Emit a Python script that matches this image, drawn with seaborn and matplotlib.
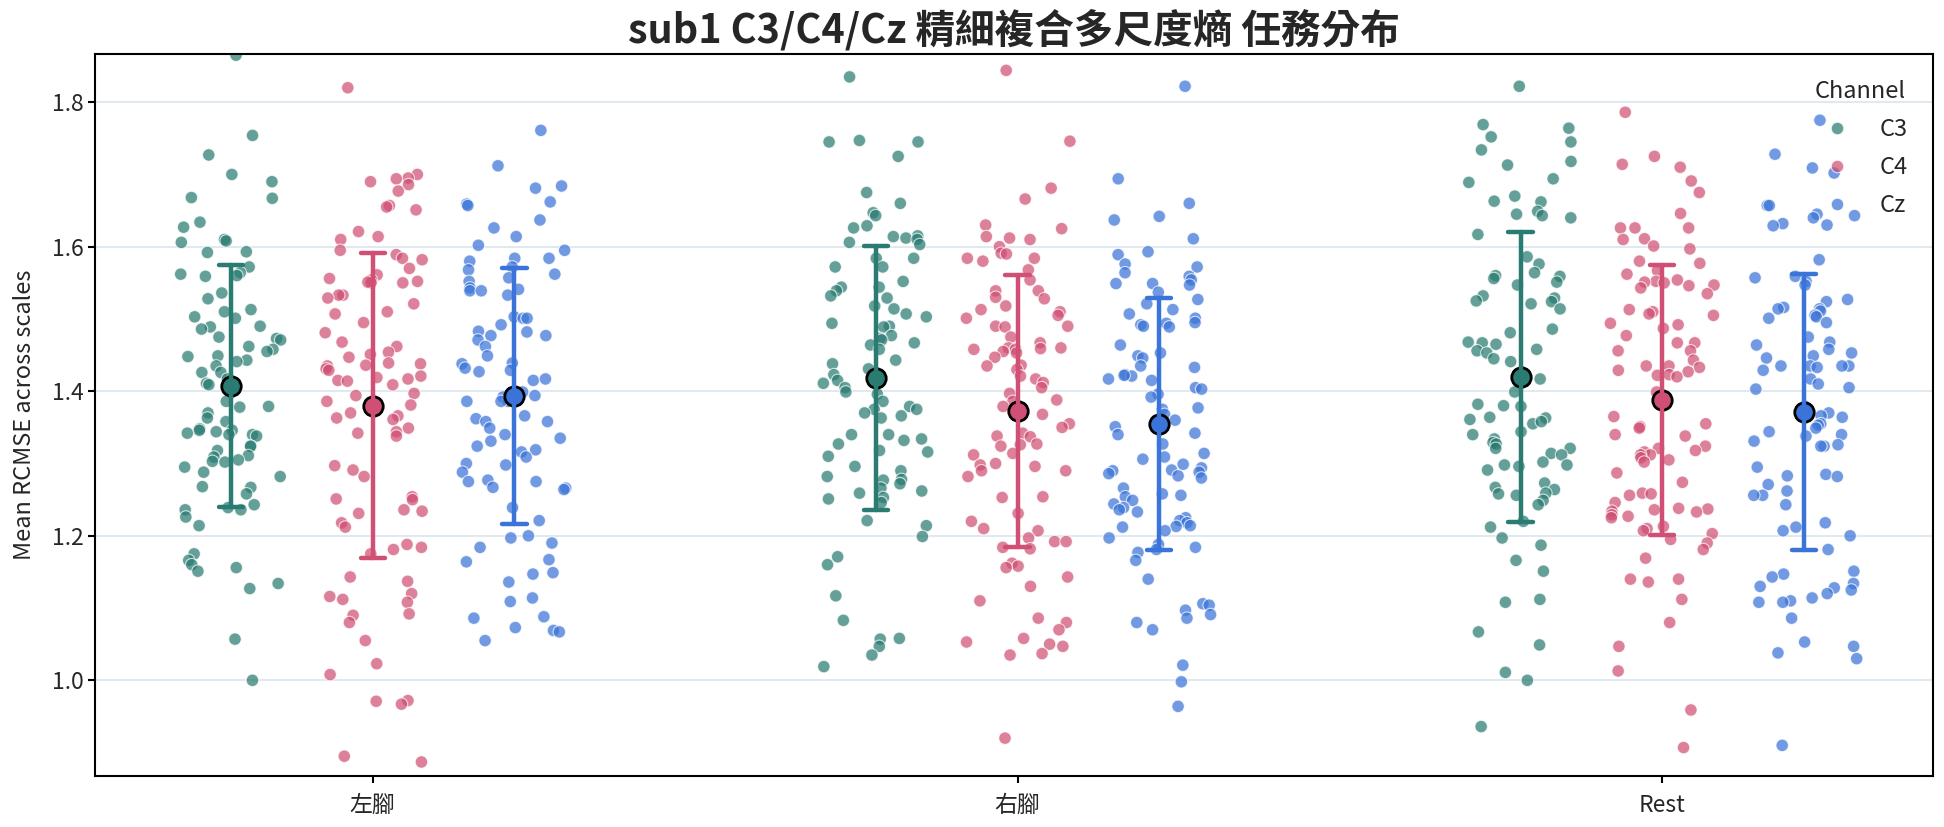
import numpy as np
import pandas as pd
import matplotlib
matplotlib.use("Agg")
import matplotlib.pyplot as plt
import seaborn as sns

# ---------------- data ----------------
tasks = ["左腳", "右腳", "Rest"]
channels = ["C3", "C4", "Cz"]
palette_colors = ["#2a7b71", "#d04f74", "#3b74d9"]

left_c3 = [1.865, 1.754, 1.727, 1.700, 1.690, 1.667, 1.668, 1.634, 1.627, 1.610, 1.606, 1.608,
           1.593, 1.592, 1.572, 1.564, 1.562, 1.560, 1.559, 1.536, 1.528, 1.513, 1.510, 1.503,
           1.501, 1.490, 1.489, 1.486, 1.475, 1.473, 1.471, 1.462, 1.458, 1.455, 1.449, 1.448,
           1.443, 1.441, 1.435, 1.426, 1.426, 1.417, 1.411, 1.409, 1.386, 1.379, 1.378, 1.370,
           1.363, 1.358, 1.348, 1.346, 1.346, 1.342, 1.340, 1.344, 1.340, 1.338, 1.324, 1.324,
           1.318, 1.311, 1.309, 1.305, 1.303, 1.302, 1.295, 1.288, 1.282, 1.268, 1.267, 1.258,
           1.243, 1.239, 1.236, 1.236, 1.226, 1.214, 1.175, 1.166, 1.160, 1.156, 1.151, 1.134,
           1.127, 1.057, 1.000]
left_c4 = [1.820, 1.700, 1.695, 1.694, 1.690, 1.686, 1.677, 1.657, 1.651, 1.655, 1.621, 1.614,
           1.610, 1.595, 1.589, 1.584, 1.582, 1.570, 1.561, 1.556, 1.554, 1.552, 1.550, 1.550,
           1.551, 1.533, 1.533, 1.529, 1.521, 1.510, 1.507, 1.495, 1.481, 1.468, 1.462, 1.454,
           1.451, 1.447, 1.439, 1.438, 1.436, 1.435, 1.431, 1.429, 1.421, 1.419, 1.417, 1.415,
           1.414, 1.409, 1.397, 1.394, 1.386, 1.381, 1.370, 1.366, 1.363, 1.361, 1.349, 1.344,
           1.342, 1.338, 1.297, 1.291, 1.282, 1.254, 1.251, 1.250, 1.236, 1.234, 1.231, 1.218,
           1.212, 1.188, 1.184, 1.181, 1.175, 1.143, 1.137, 1.120, 1.116, 1.112, 1.108, 1.092,
           1.090, 1.080, 1.055, 1.023, 1.008, 0.972, 0.971, 0.967, 0.895, 0.887]
left_cz = [1.761, 1.712, 1.684, 1.681, 1.662, 1.659, 1.657, 1.637, 1.626, 1.614, 1.602, 1.595,
           1.584, 1.584, 1.580, 1.572, 1.568, 1.562, 1.557, 1.552, 1.543, 1.541, 1.539, 1.539,
           1.533, 1.503, 1.501, 1.501, 1.492, 1.482, 1.483, 1.477, 1.477, 1.471, 1.462, 1.449,
           1.439, 1.438, 1.432, 1.429, 1.427, 1.415, 1.417, 1.399, 1.394, 1.392, 1.386, 1.386,
           1.386, 1.366, 1.362, 1.358, 1.358, 1.349, 1.340, 1.335, 1.331, 1.324, 1.319, 1.316,
           1.309, 1.300, 1.298, 1.288, 1.277, 1.275, 1.275, 1.267, 1.266, 1.264, 1.239, 1.221,
           1.200, 1.197, 1.190, 1.184, 1.167, 1.164, 1.149, 1.147, 1.136, 1.114, 1.109, 1.088,
           1.086, 1.073, 1.069, 1.067, 1.055]
right_c3 = [1.835, 1.745, 1.747, 1.745, 1.725, 1.675, 1.660, 1.647, 1.643, 1.629, 1.626, 1.615,
            1.614, 1.612, 1.610, 1.606, 1.603, 1.584, 1.584, 1.572, 1.572, 1.552, 1.544, 1.544,
            1.539, 1.532, 1.529, 1.518, 1.514, 1.507, 1.503, 1.494, 1.490, 1.489, 1.477, 1.473,
            1.471, 1.467, 1.464, 1.458, 1.443, 1.438, 1.431, 1.423, 1.415, 1.411, 1.405, 1.399,
            1.396, 1.386, 1.379, 1.375, 1.375, 1.370, 1.366, 1.363, 1.340, 1.340, 1.334, 1.332,
            1.327, 1.318, 1.316, 1.310, 1.296, 1.290, 1.282, 1.278, 1.277, 1.272, 1.266, 1.262,
            1.259, 1.253, 1.251, 1.246, 1.221, 1.214, 1.199, 1.171, 1.160, 1.117, 1.083, 1.058,
            1.057, 1.047, 1.035, 1.019]
right_c4 = [1.844, 1.746, 1.681, 1.666, 1.630, 1.625, 1.612, 1.610, 1.614, 1.600, 1.591, 1.590,
            1.584, 1.584, 1.580, 1.568, 1.554, 1.539, 1.539, 1.530, 1.528, 1.518, 1.513, 1.510,
            1.501, 1.505, 1.490, 1.489, 1.490, 1.475, 1.467, 1.460, 1.460, 1.459, 1.458, 1.458,
            1.455, 1.453, 1.447, 1.436, 1.435, 1.430, 1.421, 1.417, 1.412, 1.405, 1.397, 1.386,
            1.388, 1.379, 1.368, 1.355, 1.350, 1.342, 1.338, 1.337, 1.327, 1.326, 1.324, 1.314,
            1.312, 1.300, 1.298, 1.296, 1.290, 1.290, 1.282, 1.254, 1.253, 1.231, 1.220, 1.210,
            1.207, 1.197, 1.192, 1.192, 1.184, 1.182, 1.162, 1.158, 1.156, 1.143, 1.130, 1.110,
            1.086, 1.080, 1.070, 1.058, 1.053, 1.050, 1.047, 1.037, 1.035, 0.920]
right_cz = [1.822, 1.694, 1.660, 1.642, 1.637, 1.611, 1.593, 1.589, 1.576, 1.572, 1.564, 1.559,
            1.554, 1.549, 1.549, 1.547, 1.537, 1.527, 1.521, 1.513, 1.507, 1.501, 1.495, 1.494,
            1.492, 1.490, 1.489, 1.464, 1.453, 1.449, 1.446, 1.435, 1.433, 1.423, 1.421, 1.422,
            1.417, 1.415, 1.405, 1.403, 1.396, 1.392, 1.377, 1.375, 1.368, 1.360, 1.351, 1.342,
            1.340, 1.327, 1.314, 1.309, 1.306, 1.299, 1.294, 1.291, 1.290, 1.288, 1.286, 1.283,
            1.280, 1.266, 1.258, 1.256, 1.254, 1.249, 1.244, 1.239, 1.236, 1.233, 1.225, 1.221,
            1.218, 1.213, 1.214, 1.212, 1.207, 1.197, 1.188, 1.184, 1.181, 1.177, 1.166, 1.140,
            1.106, 1.104, 1.097, 1.091, 1.086, 1.080, 1.070, 1.021, 0.998, 0.964]
rest_c3 = [1.822, 1.769, 1.764, 1.752, 1.745, 1.734, 1.718, 1.713, 1.694, 1.689, 1.670, 1.663,
           1.662, 1.649, 1.645, 1.643, 1.640, 1.617, 1.586, 1.576, 1.564, 1.560, 1.559, 1.556,
           1.551, 1.547, 1.532, 1.529, 1.525, 1.524, 1.521, 1.514, 1.486, 1.481, 1.467, 1.465,
           1.468, 1.458, 1.456, 1.453, 1.445, 1.441, 1.417, 1.399, 1.379, 1.382, 1.380, 1.364,
           1.363, 1.361, 1.355, 1.358, 1.344, 1.340, 1.334, 1.329, 1.327, 1.321, 1.321, 1.314,
           1.312, 1.302, 1.298, 1.298, 1.296, 1.291, 1.273, 1.267, 1.264, 1.259, 1.258, 1.256,
           1.249, 1.243, 1.220, 1.212, 1.197, 1.187, 1.166, 1.151, 1.112, 1.108, 1.067, 1.049,
           1.011, 1.000, 0.936]
rest_c4 = [1.786, 1.725, 1.710, 1.714, 1.691, 1.675, 1.646, 1.626, 1.626, 1.626, 1.611, 1.610,
           1.601, 1.597, 1.580, 1.577, 1.567, 1.562, 1.554, 1.552, 1.551, 1.550, 1.547, 1.546,
           1.543, 1.535, 1.513, 1.510, 1.507, 1.505, 1.494, 1.492, 1.487, 1.477, 1.467, 1.467,
           1.456, 1.456, 1.443, 1.435, 1.433, 1.435, 1.429, 1.427, 1.423, 1.422, 1.420, 1.399,
           1.365, 1.355, 1.351, 1.349, 1.340, 1.338, 1.324, 1.321, 1.318, 1.316, 1.312, 1.312,
           1.308, 1.305, 1.302, 1.287, 1.274, 1.259, 1.258, 1.256, 1.246, 1.238, 1.236, 1.237,
           1.234, 1.233, 1.229, 1.227, 1.225, 1.213, 1.210, 1.207, 1.203, 1.195, 1.190, 1.181,
           1.169, 1.140, 1.140, 1.136, 1.112, 1.080, 1.047, 1.013, 0.959, 0.907]
rest_cz = [1.775, 1.728, 1.702, 1.709, 1.657, 1.657, 1.645, 1.643, 1.640, 1.632, 1.630, 1.629,
           1.582, 1.559, 1.557, 1.552, 1.547, 1.527, 1.524, 1.516, 1.514, 1.514, 1.511, 1.505,
           1.503, 1.501, 1.495, 1.475, 1.468, 1.464, 1.458, 1.453, 1.449, 1.446, 1.435, 1.435,
           1.435, 1.433, 1.435, 1.429, 1.417, 1.410, 1.405, 1.403, 1.379, 1.370, 1.366, 1.364,
           1.355, 1.353, 1.349, 1.344, 1.340, 1.338, 1.331, 1.326, 1.324, 1.324, 1.295, 1.285,
           1.283, 1.282, 1.271, 1.262, 1.256, 1.256, 1.243, 1.218, 1.212, 1.207, 1.200, 1.181,
           1.151, 1.147, 1.143, 1.134, 1.130, 1.128, 1.125, 1.120, 1.114, 1.110, 1.108, 1.108,
           1.086, 1.053, 1.038, 1.047, 1.030, 0.910]

series = {
    ("左腳", "C3"): left_c3, ("左腳", "C4"): left_c4, ("左腳", "Cz"): left_cz,
    ("右腳", "C3"): right_c3, ("右腳", "C4"): right_c4, ("右腳", "Cz"): right_cz,
    ("Rest", "C3"): rest_c3, ("Rest", "C4"): rest_c4, ("Rest", "Cz"): rest_cz,
}

# ---------------- build table ----------------
DODGE = 0.22
rows = []
for (task, ch), vals in series.items():
    pos = tasks.index(task) + (channels.index(ch) - 1) * DODGE
    for v in vals:
        rows.append({"Task": task, "Channel": ch, "pos": round(pos, 4), "value": v})
df = pd.DataFrame(rows)

palette = dict(zip(channels, palette_colors))

# ---------------- plot ----------------
sns.set_theme(style="ticks")
plt.rcParams["font.family"] = ["Noto Sans CJK TC", "DejaVu Sans"]
plt.rcParams["axes.unicode_minus"] = False

fig, ax = plt.subplots(figsize=(19.44, 8.27), dpi=100)
fig.subplots_adjust(left=0.049, right=0.9945, top=0.935, bottom=0.062)

np.random.seed(3)
sns.stripplot(data=df, x="pos", y="value", hue="Channel", hue_order=channels,
              palette=palette, native_scale=True, jitter=0.37, size=9,
              alpha=0.72, edgecolor="white", linewidth=0.8, ax=ax, zorder=2)

sns.pointplot(data=df, x="pos", y="value", hue="Channel", hue_order=channels,
              palette=palette, native_scale=True, errorbar="sd", capsize=0.17,
              err_kws={"linewidth": 3.2}, markers="o", linestyle="none",
              markersize=14, markeredgecolor="black", markeredgewidth=2,
              legend=False, ax=ax, zorder=5)

ax.set_xlim(-0.43, 2.42)
ax.set_ylim(0.868, 1.867)
ax.set_xticks(range(len(tasks)))
ax.set_xticklabels(tasks)
ax.set_yticks([1.0, 1.2, 1.4, 1.6, 1.8])
ax.set_yticklabels(["1.0", "1.2", "1.4", "1.6", "1.8"])
ax.tick_params(axis="both", labelsize=16.5, length=5, width=1.5, color="black")
ax.tick_params(axis="x", pad=8)
ax.set_xlabel("")
ax.set_ylabel("Mean RCMSE across scales", fontsize=17, labelpad=11)
ax.yaxis.grid(True, color="#dbe5ee", linewidth=1.2)
ax.set_axisbelow(True)
for sp in ax.spines.values():
    sp.set_visible(True)
    sp.set_color("black")
    sp.set_linewidth(1.5)

ax.set_title("sub1 C3/C4/Cz 精細複合多尺度熵 任務分布", fontsize=28.5,
             fontweight="bold", pad=8)

leg = ax.legend(title="Channel", loc="upper right", frameon=False,
                fontsize=17, title_fontsize=17, markerscale=1.0,
                borderaxespad=0.7, handletextpad=0.8, labelspacing=0.64)
for h in leg.legend_handles:
    h.set_zorder(10)

fig.savefig("out.png", dpi=100)
